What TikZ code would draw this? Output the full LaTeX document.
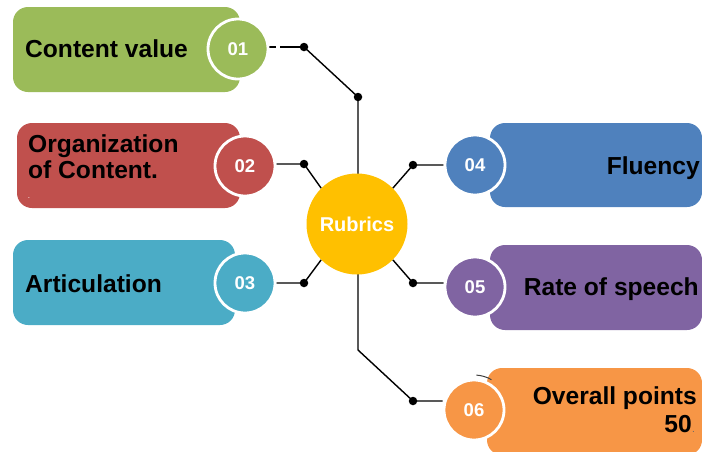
\documentclass[tikz,border=0pt]{standalone}
\usepackage{fontspec}
\setmainfont{Liberation Sans}
\usetikzlibrary{backgrounds}
\definecolor{cgreen}{HTML}{9BBB59}
\definecolor{cred}{HTML}{C0504D}
\definecolor{cteal}{HTML}{4BACC6}
\definecolor{cblue}{HTML}{4F81BD}
\definecolor{cpurple}{HTML}{8064A2}
\definecolor{corange}{HTML}{F79646}
\definecolor{cyellow}{HTML}{FFC000}
\tikzset{
  box/.style={rectangle, rounded corners=15pt, draw=none, inner sep=0pt},
  numcirc/.style={circle, minimum size=60pt, inner sep=0pt, draw=white, line width=2.8pt, text=white, font=\bfseries\fontsize{18.5}{20}\selectfont},
  hub/.style={circle, minimum size=101pt, inner sep=0pt, fill=cyellow, text=white, font=\bfseries\fontsize{20}{22}\selectfont},
  lbl/.style={inner sep=0pt, text=black, font=\bfseries\fontsize{24.6}{26}\selectfont},
  dotn/.style={circle, fill=black, inner sep=0pt, minimum size=8.5pt},
  conn/.style={draw=black, line width=1.4pt}
}
\begin{document}
\begin{tikzpicture}[x=1pt,y=-1pt]
\useasboundingbox (0,0) rectangle (702,451);
% boxes
\node[box, fill=cgreen, minimum width=227pt, minimum height=85pt] (b1) at (126.5,49.5) {};
\node[box, fill=cred, minimum width=223pt, minimum height=85pt] (b2) at (128.5,165.5) {};
\node[box, fill=cteal, minimum width=222pt, minimum height=85pt] (b3) at (124,282.5) {};
\node[box, fill=cblue, minimum width=212pt, minimum height=84pt] (b4) at (596,165) {};
\node[box, fill=cpurple, minimum width=212pt, minimum height=85pt] (b5) at (596,287.5) {};
\node[box, fill=corange, minimum width=215pt, minimum height=87pt] (b6) at (594.5,411.5) {};
% labels
\node[lbl, anchor=base west] (t1) at (25,57) {Content value};
\node[lbl, anchor=west, align=left] (t2) at (28,157) {Organization\\of Content.};
\node[inner sep=0pt, text=white, font=\fontsize{8}{8}\selectfont, anchor=base] (t2d) at (29,198) {.};
\node[lbl, anchor=base west] (t3) at (25,292) {Articulation};
\node[lbl, anchor=base east] (t4) at (700,174) {Fluency};
\node[lbl, anchor=base east] (t5) at (699,295) {Rate of speech};
\node[lbl, anchor=base east] (t6) at (697,404) {Overall points};
\node[lbl, anchor=base east] (t6b) at (692,432) {50};
\node[inner sep=0pt, text=black!60, font=\fontsize{10}{10}\selectfont, anchor=base west] (t6c) at (692,432) {.};
% number circles
\node[numcirc, fill=cgreen] (c1) at (238,49) {01};
\node[numcirc, fill=cred] (c2) at (245,166) {02};
\node[numcirc, fill=cteal] (c3) at (245,283) {03};
\node[numcirc, fill=cblue] (c4) at (475,165) {04};
\node[numcirc, fill=cpurple] (c5) at (475,287) {05};
\node[numcirc, fill=corange] (c6) at (474,410) {06};
\draw[black!75, line width=1pt] (c6.center) ++(-86:35) arc[start angle=-86, end angle=-60, radius=35];
% hub
\node[hub] (rub) at (357,224) {Rubrics};
% dots
\node[dotn] (d1a) at (304,47) {};
\node[dotn] (d1b) at (358,97) {};
\node[dotn] (d2) at (304,164) {};
\node[dotn] (d3) at (304,283) {};
\node[dotn] (d4) at (413,165) {};
\node[dotn] (d5) at (413,283) {};
\node[dotn] (d6) at (413,401) {};
\coordinate (v6) at (358,350);
% connectors
\begin{scope}[on background layer]
\draw[conn, dash pattern=on 7pt off 4pt on 60pt] (d1a -| c1.east) -- (d1a.center);
\draw[conn] (d1a.center) -- (d1b.center) -- (v6) -- (d6.center) -- (d6 -| c6.west);
\draw[conn] (d2 -| c2.east) -- (d2.center) -- (rub.135);
\draw[conn] (d3 -| c3.east) -- (d3.center) -- (rub.225);
\draw[conn] (d4 -| c4.west) -- (d4.center) -- (rub.45);
\draw[conn] (d5 -| c5.west) -- (d5.center) -- (rub.315);
\end{scope}
\end{tikzpicture}
\end{document}
